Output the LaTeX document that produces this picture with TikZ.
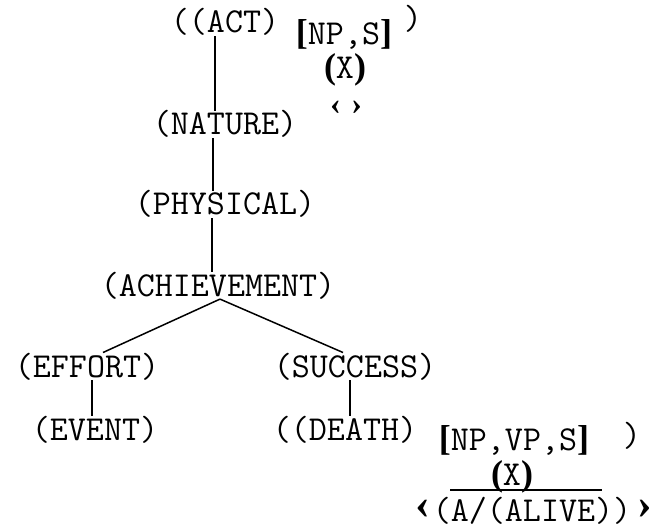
\documentclass[tikz,border=0pt]{standalone}
\usepackage{fontspec}
\newfontfamily\sbf{Liberation Serif}
\newcommand{\bk}[1]{{\sbf\bfseries\fontsize{36}{36}\selectfont #1}}
\begin{document}
\begin{tikzpicture}[x=1pt,y=-1pt,
  every node/.style={inner sep=0pt},
  lbl/.style={anchor=base,font=\ttfamily\fontsize{35}{35}\selectfont},
  chev/.style={anchor=base,text depth=0pt,font=\sbf\bfseries\fontsize{44}{44}\selectfont},
  conn/.style={line width=1.5pt}]
\useasboundingbox (0,0) rectangle (658,529);
% tree labels
\node[lbl] (act) at (225,33) {((ACT)};
\node[lbl] (nat) at (225,135) {(NATURE)};
\node[lbl] (phy) at (225,215) {(PHYSICAL)};
\node[lbl] (ach) at (218,296) {(ACHIEVEMENT)};
\node[lbl] (eff) at (87,377) {(EFFORT)};
\node[lbl] (suc) at (355,377) {(SUCCESS)};
\node[lbl] (evt) at (95,440) {(EVENT)};
\node[lbl] (dea) at (345,440) {((DEATH)};
% top annotations
\node[lbl] (np1) at (344,45) {\bk{[}NP,S\bk{]}};
\node[lbl] (rp1) at (413,30) {)};
\node[lbl] (x1) at (345,79) {\bk{(}X\bk{)}};
\node[lbl] (ang1) at (346,115) {{\sbf\bfseries\fontsize{32}{32}\selectfont ‹\,\,›}};
% bottom annotations
\node[lbl] (np2) at (514,450) {\bk{[}NP,VP,S\bk{]}};
\node[lbl] (rp2) at (632,446) {)};
\node[lbl] (x2) at (512,485) {\bk{(}X\bk{)}};
\node[lbl] (alive) at (532,521) {(A/(ALIVE))};
\node[chev] (angl) at (423,518) {‹};
\node[chev] (angr) at (645,518) {›};
\draw[line width=1.2pt] (450,490) -- (602,490);
% connectors
\draw[conn] ([xshift=-10pt]act.south) -- ([xshift=-10pt]nat.north);
\draw[conn] ([xshift=-12pt]nat.south) -- ([xshift=-12pt]phy.north);
\draw[conn] ([xshift=-13pt]phy.south) -- ([xshift=-6pt]ach.north);
\draw[conn] ([xshift=2pt]ach.south) -- ([xshift=16pt]eff.north);
\draw[conn] ([xshift=2pt]ach.south) -- ([xshift=-12pt]suc.north);
\draw[conn] ([xshift=5pt]eff.south) -- ([xshift=-3pt]evt.north);
\draw[conn] ([xshift=-5pt]suc.south) -- ([xshift=5pt]dea.north);
\end{tikzpicture}
\end{document}
